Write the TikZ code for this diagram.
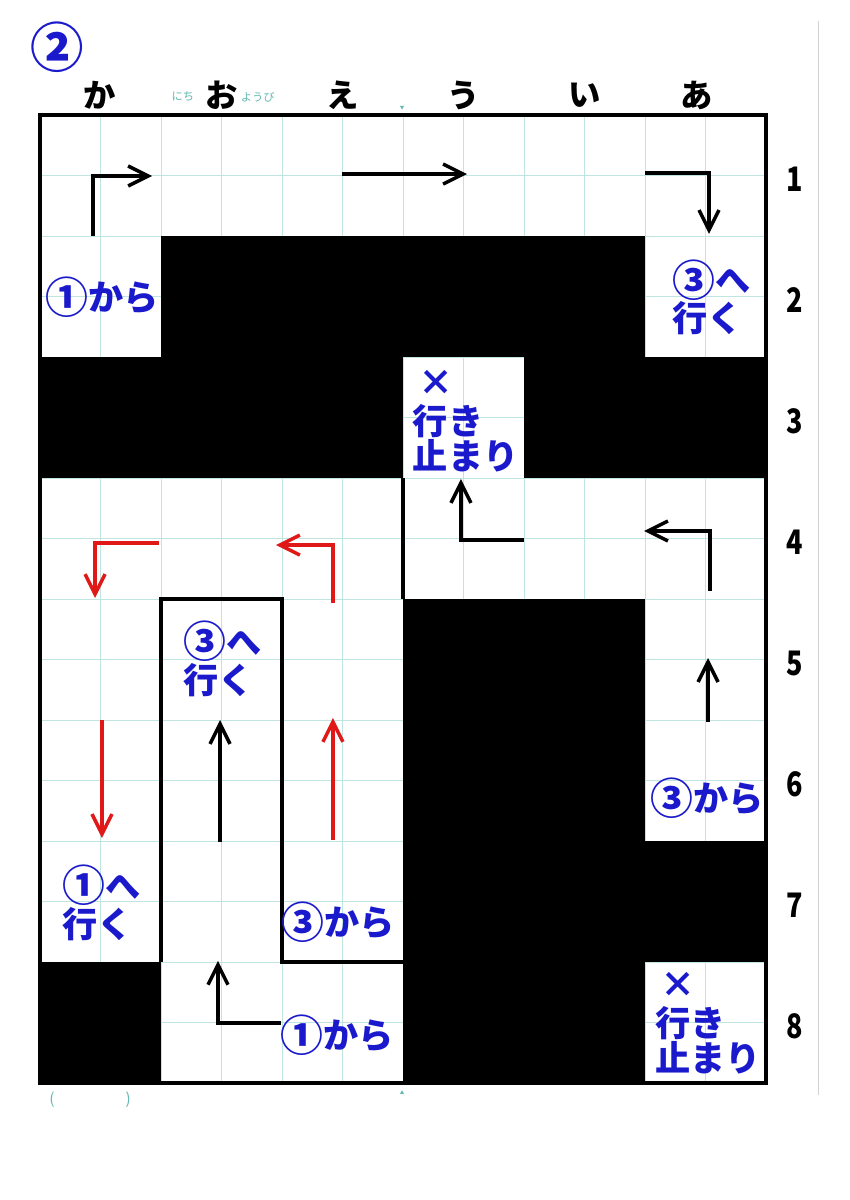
\documentclass[tikz,border=0pt]{standalone}
\usepackage{fontspec}
\setmainfont{Noto Sans CJK JP}
\usetikzlibrary{arrows.meta}
\definecolor{mazeblue}{RGB}{26,26,204}
\definecolor{mazered}{RGB}{224,24,24}
\definecolor{gridteal}{RGB}{192,229,224}
\definecolor{printteal}{RGB}{100,185,178}
\newcommand\circnum[1]{\raisebox{-0.08em}{\scalebox{1.22}{#1}}}

\begin{document}
\begin{tikzpicture}[x=3.025cm, y=3.025cm,
    wall/.style={line width=3.5pt},
    route/.style={line width=2.5pt, -{Straight Barb[length=5mm,width=5mm]}},
    redroute/.style={route, mazered},
    note/.style={font=\bfseries\fontsize{25}{23}\selectfont, text=mazeblue, inner sep=0pt, align=left},
    colhead/.style={font=\bfseries\fontsize{23}{23}\selectfont},
    rowhead/.style={font=\bfseries\fontsize{24}{24}\selectfont},
    faint/.style={text=printteal, inner sep=0pt}]
  \useasboundingbox[fill=white] (-0.3306,0.9504) rectangle (6.6860,-8.9669);
  \draw[gridteal, line width=0.6pt, step=0.5] (0,-8) grid (6,0);
  \fill (1,-1) rectangle (5,-2);
  \fill (0,-2) rectangle (3,-3);
  \fill (4,-2) rectangle (6,-3);
  \fill (3,-4) rectangle (5,-7);
  \fill (5,-6) rectangle (6,-7);
  \fill (0,-7) rectangle (1,-8);
  \fill (3,-7) rectangle (5,-8);
  \draw[wall] (0,0) rectangle (6,-8);
  \draw[wall] (1,-7) -- (1,-4) -- (2,-4) -- (2,-7) -- (3,-7);
  \draw[wall] (3,-3) -- (3,-4);
  \draw[gray!35, line width=0.6pt] (6.43,0.78) -- (6.43,-8.1);
  \fill[printteal] (2.975,0.075) -- (3.009,0.075) -- (2.992,0.045) -- cycle;
  \fill[printteal] (2.975,-8.09) -- (3.009,-8.09) -- (2.992,-8.06) -- cycle;

  \node[font=\bfseries\fontsize{38}{38}\selectfont, text=mazeblue, inner sep=0pt] (probnum) at (0.14,0.56) {②};
  \foreach \kana/\cx [count=\i] in {か/0.496, お/1.504, え/2.504, う/3.504, い/4.504, あ/5.43}
    \node[colhead] (col\i) at (\cx,0.165) {\kana};
  \node[faint, font=\fontsize{8}{8}\selectfont] (nichi) at (1.18,0.15) {にち};
  \node[faint, font=\fontsize{8}{8}\selectfont] (youbi) at (1.80,0.15) {ようび};
  \foreach \r in {1,...,8}
    \node[rowhead] (row\r) at (6.24,-\r+0.47) {\scalebox{0.8}[1]{\r}};
  \node[faint, font=\fontsize{11}{11}\selectfont] (parl) at (0.10,-8.14) {(};
  \node[faint, font=\fontsize{11}{11}\selectfont] (parr) at (0.73,-8.14) {)};

  \draw[route] (0.438,-1.0) -- (0.438,-0.504) -- (0.926,-0.504);
  \draw[route] (2.496,-0.488) -- (3.529,-0.488);
  \draw[route] (5.0,-0.479) -- (5.529,-0.479) -- (5.529,-0.983);
  \draw[route] (4.0,-3.512) -- (3.479,-3.512) -- (3.479,-3.008);
  \draw[route] (5.537,-3.934) -- (5.537,-3.438) -- (4.992,-3.438);
  \draw[route] (5.521,-5.017) -- (5.521,-4.488);
  \draw[route] (1.488,-6.008) -- (1.488,-5.0);
  \draw[route] (1.992,-7.504) -- (1.471,-7.504) -- (1.471,-6.99);
  \draw[redroute] (0.983,-3.537) -- (0.455,-3.537) -- (0.455,-3.992);
  \draw[redroute] (2.421,-4.033) -- (2.421,-3.554) -- (1.950,-3.554);
  \draw[redroute] (0.512,-5.0) -- (0.512,-5.975);
  \draw[redroute] (2.421,-5.992) -- (2.421,-4.983);

  \node[note] (fromA) at (0.51,-1.504) {\circnum{①}から};
  \node[note, anchor=west] (toC) at (5.223,-1.508) {\circnum{③}へ\\行く};
  \node[note, anchor=west] (deadA) at (3.08,-2.53) {\hspace{0.15em}×\\[5pt]行き\\止まり};
  \node[note, anchor=west] (toCb) at (1.182,-4.496) {\circnum{③}へ\\行く};
  \node[note] (fromC) at (5.512,-5.645) {\circnum{③}から};
  \node[note, anchor=west] (toA) at (0.182,-6.512) {\circnum{①}へ\\行く};
  \node[note] (fromCb) at (2.463,-6.669) {\circnum{③}から};
  \node[note] (fromAb) at (2.455,-7.603) {\circnum{①}から};
  \node[note, anchor=west] (deadB) at (5.083,-7.504) {\hspace{0.15em}×\\[5pt]行き\\止まり};
\end{tikzpicture}
\end{document}
